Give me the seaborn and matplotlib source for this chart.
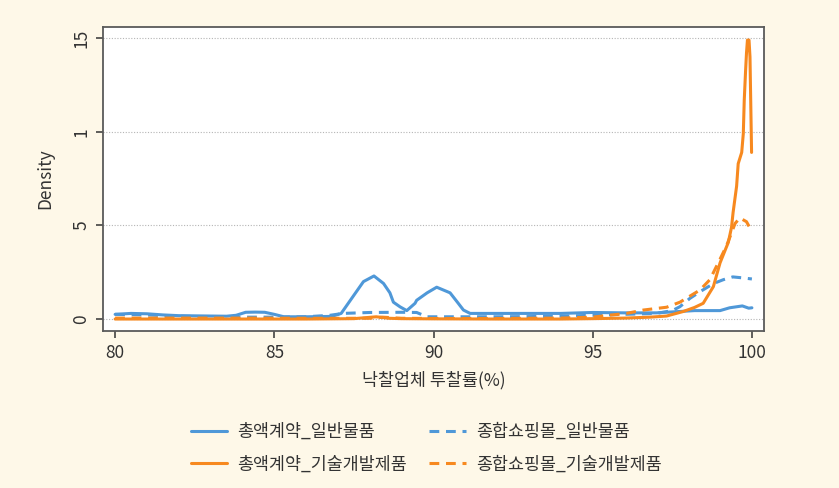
import matplotlib
matplotlib.use("Agg")
import matplotlib.pyplot as plt
import seaborn as sns
import pandas as pd
from matplotlib.lines import Line2D

# ---- data ----
series_names = ["총액계약_일반물품", "종합쇼핑몰_일반물품", "총액계약_기술개발제품", "종합쇼핑몰_기술개발제품"]

x_total_gen = [80, 80.5, 81, 81.5, 82, 83, 83.5, 83.8, 84.1, 84.4, 84.7, 85.0, 85.3, 86, 86.8, 87.1, 87.47,
               87.8, 88.13, 88.43, 88.63, 88.74, 88.95, 89.16, 89.42, 89.47, 89.8, 90.1, 90.52, 90.75,
               90.94, 91.15, 91.5, 92, 93, 94, 95, 96, 97, 97.7, 98.2, 99.0, 99.3, 99.5, 99.7, 99.9, 100]
y_total_gen = [0.025, 0.03, 0.028, 0.022, 0.018, 0.016, 0.015, 0.02, 0.036, 0.037, 0.036, 0.025, 0.012,
               0.012, 0.014, 0.03, 0.12, 0.2, 0.23, 0.19, 0.14, 0.09, 0.065, 0.045, 0.084, 0.10, 0.14,
               0.17, 0.14, 0.09, 0.048, 0.03, 0.03, 0.03, 0.03, 0.03, 0.035, 0.033, 0.033, 0.04, 0.045,
               0.045, 0.06, 0.065, 0.07, 0.058, 0.06]

x_mall_gen = [80, 81, 82, 83, 84, 85, 86, 86.75, 87.16, 88, 89, 89.47, 89.8, 91, 92, 93, 94, 95, 96, 97,
              97.5, 97.74, 98.05, 98.37, 98.8, 99.1, 99.4, 99.7, 100]
y_mall_gen = [0.025, 0.022, 0.015, 0.012, 0.01, 0.01, 0.012, 0.02, 0.03, 0.035, 0.036, 0.035, 0.012,
              0.012, 0.012, 0.013, 0.015, 0.02, 0.025, 0.03, 0.045, 0.066, 0.11, 0.146, 0.19, 0.21,
              0.225, 0.22, 0.214]

x_total_tech = [80, 82, 84, 86, 87.5, 88.2, 88.6, 89, 90, 92, 94, 95, 96, 96.8, 97.32, 97.84, 98.2,
                98.47, 98.79, 99.0, 99.26, 99.36, 99.41, 99.52, 99.57, 99.68, 99.73, 99.76, 99.80,
                99.83, 99.86, 99.91, 99.94, 99.99]
y_total_tech = [0.0, 0.0, 0.0, 0.0, 0.002, 0.012, 0.004, 0.002, 0.001, 0.0, 0.0, 0.002, 0.005, 0.01,
                0.016, 0.04, 0.062, 0.084, 0.173, 0.30, 0.41, 0.49, 0.57, 0.71, 0.83, 0.89, 0.99, 1.17,
                1.32, 1.42, 1.49, 1.49, 1.40, 0.89]

x_mall_tech = [80, 82, 84, 86, 88, 88.4, 89, 90, 92, 94, 95, 95.5, 96.06, 96.59, 97.32, 97.74, 98.37,
               98.68, 99.0, 99.2, 99.36, 99.47, 99.62, 99.83, 99.99]
y_mall_tech = [0.005, 0.005, 0.005, 0.004, 0.004, 0.01, 0.004, 0.003, 0.003, 0.005, 0.01, 0.02, 0.03,
               0.048, 0.063, 0.09, 0.155, 0.21, 0.32, 0.39, 0.46, 0.51, 0.54, 0.52, 0.47]

x_ticks = [80, 85, 90, 95, 100]
y_ticks = [0, 0.5, 1, 1.5]
y_tick_labels = ["0", "5", "1", "15"]

# ---- styling ----
BLUE = "#4f98d8"
ORANGE = "#f7891f"
BG = "#fef8e8"
TXT = "#333333"
FS = 12.5
LW = 2.2
DASH = (3.2, 2.2)

sns.set_theme(style="white")
plt.rcParams["font.family"] = ["Noto Sans CJK KR", "DejaVu Sans"]

frames = []
for name, xs, ys in [(series_names[0], x_total_gen, y_total_gen),
                     (series_names[1], x_mall_gen, y_mall_gen),
                     (series_names[2], x_total_tech, y_total_tech),
                     (series_names[3], x_mall_tech, y_mall_tech)]:
    frames.append(pd.DataFrame({"x": xs, "y": ys, "series": name}))
df = pd.concat(frames, ignore_index=True)

fig = plt.figure(figsize=(8.39, 4.88), dpi=100, facecolor=BG)
ax = fig.add_axes([0.1228, 0.3217, 0.7878, 0.623])
ax.set_facecolor("white")

palette = {series_names[0]: BLUE, series_names[1]: BLUE,
           series_names[2]: ORANGE, series_names[3]: ORANGE}
dashes = {series_names[0]: "", series_names[1]: DASH,
          series_names[2]: "", series_names[3]: DASH}

sns.lineplot(data=df, x="x", y="y", hue="series", style="series", palette=palette,
             dashes=dashes, sort=False, estimator=None, linewidth=LW, ax=ax, legend=False)

ax.set_xlim(79.62, 100.38)
ax.set_ylim(-0.064, 1.56)
ax.set_xticks(x_ticks)
ax.set_xticklabels([str(t) for t in x_ticks])
ax.set_yticks(y_ticks)
ax.set_yticklabels(y_tick_labels, rotation=90, va="center")
for yt in y_ticks:
    ax.axhline(yt, color="#b5b5b5", linewidth=0.8, linestyle=(0, (1, 1.5)), zorder=0)

for s in ax.spines.values():
    s.set_color("#5a5a5a")
    s.set_linewidth(1.3)
ax.tick_params(axis="both", which="major", direction="out", length=5, width=1.1,
               color=TXT, labelsize=FS, labelcolor=TXT, pad=4,
               bottom=True, left=True)
ax.set_xlabel("낙찰업체 투찰률(%)", fontsize=FS, color=TXT, labelpad=7)
ax.set_ylabel("Density", fontsize=FS, color=TXT, labelpad=13)

handles = [
    Line2D([], [], color=BLUE, lw=LW),
    Line2D([], [], color=ORANGE, lw=LW),
    Line2D([], [], color=BLUE, lw=LW, dashes=DASH),
    Line2D([], [], color=ORANGE, lw=LW, dashes=DASH),
]
labels = [series_names[0], series_names[2], series_names[1], series_names[3]]
fig.legend(handles, labels, ncol=2, loc="center", bbox_to_anchor=(0.508, 0.082),
           frameon=False, fontsize=FS, handlelength=2.1, handletextpad=0.6,
           columnspacing=1.25, labelspacing=0.85, labelcolor=TXT)

fig.savefig("out.png", dpi=100, facecolor=BG)
